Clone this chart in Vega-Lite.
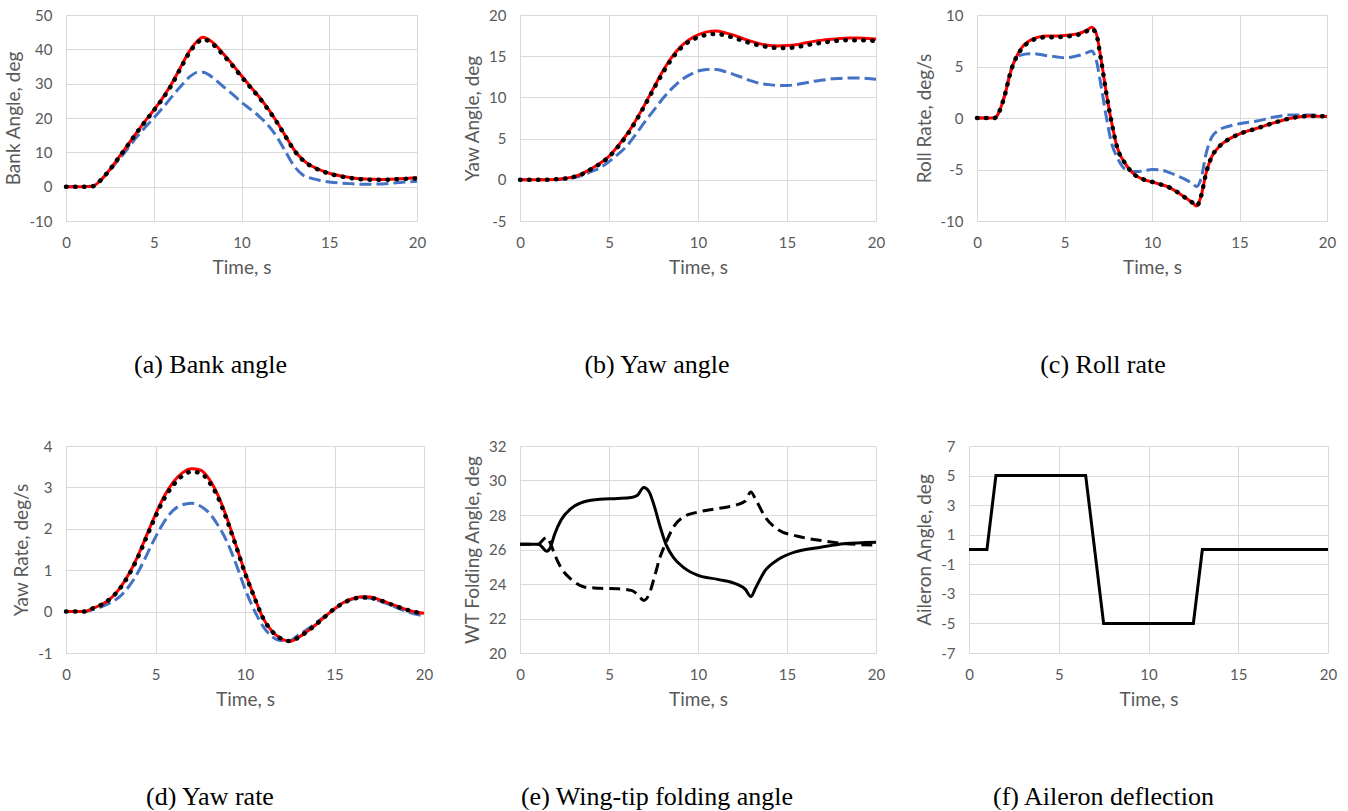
{
  "$schema": "https://vega.github.io/schema/vega-lite/v6.json",
  "padding": {"left": 4, "top": 8, "right": 5, "bottom": 0},
  "background": "white",
  "datasets": {
    "a": [
      {"t":0,"red":0,"black":0,"blue":0},
      {"t":1,"red":0,"black":0,"blue":0},
      {"t":1.5,"red":0.1,"black":0.1,"blue":0.1},
      {"t":2,"red":2.0,"black":2.0,"blue":2.0},
      {"t":2.5,"red":5.0,"black":5.0,"blue":4.8},
      {"t":3,"red":8.5,"black":8.4,"blue":7.8},
      {"t":3.5,"red":12.0,"black":11.9,"blue":11.0},
      {"t":4,"red":15.6,"black":15.5,"blue":14.3},
      {"t":4.5,"red":19.0,"black":18.9,"blue":17.2},
      {"t":5,"red":22.3,"black":22.2,"blue":20.0},
      {"t":5.5,"red":25.8,"black":25.6,"blue":22.9},
      {"t":6,"red":29.8,"black":29.5,"blue":26.0},
      {"t":6.5,"red":34.5,"black":34.2,"blue":29.0},
      {"t":7,"red":39.2,"black":38.8,"blue":31.8},
      {"t":7.5,"red":42.5,"black":42.0,"blue":33.3},
      {"t":7.8,"red":43.5,"black":42.9,"blue":33.3},
      {"t":8,"red":43.2,"black":42.7,"blue":33.0},
      {"t":8.5,"red":41.4,"black":40.9,"blue":31.2},
      {"t":9,"red":38.5,"black":38.1,"blue":29.0},
      {"t":9.5,"red":35.5,"black":35.2,"blue":26.9},
      {"t":10,"red":32.3,"black":32.0,"blue":24.6},
      {"t":10.5,"red":29.2,"black":29.0,"blue":22.6},
      {"t":11,"red":26.2,"black":26.0,"blue":20.5},
      {"t":11.5,"red":22.8,"black":22.6,"blue":18.0},
      {"t":12,"red":19.0,"black":18.9,"blue":14.6},
      {"t":12.5,"red":14.8,"black":14.7,"blue":10.3},
      {"t":13,"red":10.7,"black":10.6,"blue":6.0},
      {"t":13.5,"red":7.8,"black":7.7,"blue":3.4},
      {"t":14,"red":6.0,"black":5.9,"blue":2.4},
      {"t":14.5,"red":4.8,"black":4.7,"blue":1.8},
      {"t":15,"red":3.9,"black":3.8,"blue":1.35},
      {"t":16,"red":2.8,"black":2.7,"blue":0.95},
      {"t":17,"red":2.2,"black":2.1,"blue":0.7},
      {"t":18,"red":2.1,"black":2.0,"blue":0.8},
      {"t":19,"red":2.3,"black":2.2,"blue":1.2},
      {"t":20,"red":2.6,"black":2.4,"blue":1.6}
    ],
    "b": [
      {"t":0,"red":0,"black":0,"blue":0},
      {"t":1,"red":0,"black":0,"blue":0},
      {"t":2,"red":0.05,"black":0.05,"blue":0.03},
      {"t":2.5,"red":0.15,"black":0.15,"blue":0.1},
      {"t":3,"red":0.35,"black":0.35,"blue":0.25},
      {"t":3.5,"red":0.75,"black":0.7,"blue":0.55},
      {"t":4,"red":1.35,"black":1.3,"blue":1.0},
      {"t":4.5,"red":2.0,"black":1.95,"blue":1.45},
      {"t":5,"red":2.85,"black":2.8,"blue":2.2},
      {"t":5.5,"red":4.1,"black":4.0,"blue":3.1},
      {"t":6,"red":5.5,"black":5.4,"blue":4.1},
      {"t":6.5,"red":7.2,"black":7.1,"blue":5.5},
      {"t":7,"red":9.1,"black":9.0,"blue":7.0},
      {"t":7.5,"red":11.1,"black":11.0,"blue":8.4},
      {"t":8,"red":13.1,"black":12.9,"blue":9.8},
      {"t":8.5,"red":14.8,"black":14.6,"blue":11.0},
      {"t":9,"red":16.1,"black":15.9,"blue":12.0},
      {"t":9.5,"red":17.0,"black":16.8,"blue":12.7},
      {"t":10,"red":17.6,"black":17.3,"blue":13.2},
      {"t":10.5,"red":17.95,"black":17.6,"blue":13.4},
      {"t":11,"red":18.05,"black":17.7,"blue":13.4},
      {"t":11.5,"red":17.85,"black":17.55,"blue":13.15},
      {"t":12,"red":17.55,"black":17.25,"blue":12.8},
      {"t":12.5,"red":17.15,"black":16.9,"blue":12.4},
      {"t":13,"red":16.8,"black":16.55,"blue":12.0},
      {"t":13.5,"red":16.5,"black":16.3,"blue":11.7},
      {"t":14,"red":16.3,"black":16.1,"blue":11.55},
      {"t":14.5,"red":16.25,"black":16.0,"blue":11.45},
      {"t":15,"red":16.3,"black":16.0,"blue":11.45},
      {"t":15.5,"red":16.4,"black":16.1,"blue":11.55},
      {"t":16,"red":16.6,"black":16.3,"blue":11.75},
      {"t":16.5,"red":16.8,"black":16.5,"blue":11.95},
      {"t":17,"red":16.95,"black":16.65,"blue":12.1},
      {"t":17.5,"red":17.05,"black":16.8,"blue":12.25},
      {"t":18,"red":17.15,"black":16.9,"blue":12.3},
      {"t":18.5,"red":17.2,"black":16.95,"blue":12.35},
      {"t":19,"red":17.2,"black":16.95,"blue":12.35},
      {"t":19.5,"red":17.15,"black":16.9,"blue":12.3},
      {"t":20,"red":17.1,"black":16.85,"blue":12.2}
    ],
    "c": [
      {"t":0,"red":0,"black":0,"blue":0},
      {"t":1,"red":0,"black":0,"blue":0},
      {"t":1.1,"red":0.1,"black":0.1,"blue":0.1},
      {"t":1.5,"red":1.7,"black":1.7,"blue":1.8},
      {"t":2,"red":4.9,"black":4.9,"blue":5.0},
      {"t":2.5,"red":6.7,"black":6.6,"blue":6.1},
      {"t":3,"red":7.5,"black":7.4,"blue":6.25},
      {"t":3.5,"red":7.85,"black":7.75,"blue":6.2},
      {"t":4,"red":7.95,"black":7.85,"blue":6.05},
      {"t":4.5,"red":7.95,"black":7.85,"blue":5.95},
      {"t":5,"red":8.0,"black":7.9,"blue":5.85},
      {"t":5.5,"red":8.1,"black":8.0,"blue":5.95},
      {"t":6,"red":8.3,"black":8.2,"blue":6.15},
      {"t":6.3,"red":8.55,"black":8.45,"blue":6.35},
      {"t":6.55,"red":8.8,"black":8.65,"blue":6.5},
      {"t":6.8,"red":8.3,"black":8.2,"blue":5.7},
      {"t":7.1,"red":5.6,"black":5.5,"blue":3.0},
      {"t":7.4,"red":2.3,"black":2.3,"blue":0.0},
      {"t":7.7,"red":-0.5,"black":-0.5,"blue":-2.5},
      {"t":8,"red":-2.8,"black":-2.8,"blue":-3.8},
      {"t":8.5,"red":-4.5,"black":-4.5,"blue":-5.0},
      {"t":9,"red":-5.5,"black":-5.5,"blue":-5.2},
      {"t":9.5,"red":-5.95,"black":-5.95,"blue":-5.15},
      {"t":10,"red":-6.2,"black":-6.2,"blue":-5.0},
      {"t":10.5,"red":-6.45,"black":-6.45,"blue":-5.05},
      {"t":11,"red":-6.75,"black":-6.75,"blue":-5.3},
      {"t":11.5,"red":-7.25,"black":-7.25,"blue":-5.65},
      {"t":12,"red":-7.85,"black":-7.85,"blue":-6.05},
      {"t":12.3,"red":-8.2,"black":-8.2,"blue":-6.35},
      {"t":12.55,"red":-8.55,"black":-8.55,"blue":-6.65},
      {"t":12.8,"red":-7.6,"black":-7.6,"blue":-5.9},
      {"t":13.1,"red":-5.3,"black":-5.3,"blue":-3.4},
      {"t":13.4,"red":-3.8,"black":-3.8,"blue":-1.9},
      {"t":13.8,"red":-2.85,"black":-2.85,"blue":-1.2},
      {"t":14.5,"red":-1.95,"black":-1.95,"blue":-0.75},
      {"t":15,"red":-1.55,"black":-1.55,"blue":-0.55},
      {"t":16,"red":-1.0,"black":-1.0,"blue":-0.3},
      {"t":17,"red":-0.45,"black":-0.45,"blue":0.1},
      {"t":18,"red":0.0,"black":0.0,"blue":0.3},
      {"t":19,"red":0.2,"black":0.2,"blue":0.3},
      {"t":20,"red":0.15,"black":0.15,"blue":0.15}
    ],
    "d": [
      {"t":0,"red":0,"black":0,"blue":0},
      {"t":1,"red":0,"black":0,"blue":0},
      {"t":1.5,"red":0.08,"black":0.08,"blue":0.05},
      {"t":2,"red":0.17,"black":0.17,"blue":0.12},
      {"t":2.5,"red":0.32,"black":0.32,"blue":0.22},
      {"t":3,"red":0.56,"black":0.55,"blue":0.36},
      {"t":3.5,"red":0.9,"black":0.88,"blue":0.6},
      {"t":4,"red":1.33,"black":1.3,"blue":0.93},
      {"t":4.5,"red":1.84,"black":1.8,"blue":1.36},
      {"t":5,"red":2.35,"black":2.3,"blue":1.8},
      {"t":5.5,"red":2.8,"black":2.74,"blue":2.18},
      {"t":6,"red":3.13,"black":3.06,"blue":2.45},
      {"t":6.5,"red":3.35,"black":3.28,"blue":2.58},
      {"t":7,"red":3.45,"black":3.38,"blue":2.62},
      {"t":7.5,"red":3.42,"black":3.35,"blue":2.55},
      {"t":8,"red":3.2,"black":3.13,"blue":2.38},
      {"t":8.5,"red":2.8,"black":2.75,"blue":2.08},
      {"t":9,"red":2.25,"black":2.2,"blue":1.68},
      {"t":9.5,"red":1.6,"black":1.58,"blue":1.15},
      {"t":10,"red":0.95,"black":0.93,"blue":0.55},
      {"t":10.5,"red":0.38,"black":0.37,"blue":0.05},
      {"t":11,"red":-0.15,"black":-0.15,"blue":-0.35},
      {"t":11.5,"red":-0.47,"black":-0.47,"blue":-0.6},
      {"t":12,"red":-0.65,"black":-0.65,"blue":-0.7},
      {"t":12.5,"red":-0.72,"black":-0.71,"blue":-0.7},
      {"t":13,"red":-0.62,"black":-0.62,"blue":-0.56},
      {"t":13.5,"red":-0.47,"black":-0.47,"blue":-0.42},
      {"t":14,"red":-0.3,"black":-0.3,"blue":-0.26},
      {"t":14.5,"red":-0.11,"black":-0.11,"blue":-0.1},
      {"t":15,"red":0.07,"black":0.07,"blue":0.06},
      {"t":15.5,"red":0.22,"black":0.21,"blue":0.2},
      {"t":16,"red":0.31,"black":0.3,"blue":0.3},
      {"t":16.5,"red":0.36,"black":0.34,"blue":0.34},
      {"t":17,"red":0.35,"black":0.33,"blue":0.32},
      {"t":17.5,"red":0.29,"black":0.28,"blue":0.26},
      {"t":18,"red":0.21,"black":0.2,"blue":0.18},
      {"t":18.5,"red":0.13,"black":0.12,"blue":0.09},
      {"t":19,"red":0.05,"black":0.05,"blue":0.01},
      {"t":19.5,"red":-0.01,"black":-0.01,"blue":-0.06},
      {"t":20,"red":-0.04,"black":-0.05,"blue":-0.1}
    ],
    "e": [
      {"t":0,"solid":26.3,"dashed":26.3},
      {"t":1.05,"solid":26.3,"dashed":26.3},
      {"t":1.25,"solid":26.13,"dashed":26.52},
      {"t":1.5,"solid":25.9,"dashed":26.7},
      {"t":1.7,"solid":26.1,"dashed":26.38},
      {"t":1.95,"solid":26.9,"dashed":25.7},
      {"t":2.3,"solid":27.7,"dashed":24.95},
      {"t":2.9,"solid":28.4,"dashed":24.25},
      {"t":3.6,"solid":28.77,"dashed":23.83},
      {"t":4.5,"solid":28.92,"dashed":23.75},
      {"t":5.5,"solid":28.96,"dashed":23.72},
      {"t":6.25,"solid":29.02,"dashed":23.63},
      {"t":6.6,"solid":29.15,"dashed":23.4},
      {"t":6.95,"solid":29.6,"dashed":23.05},
      {"t":7.25,"solid":29.35,"dashed":23.4},
      {"t":7.55,"solid":28.5,"dashed":24.4},
      {"t":7.85,"solid":27.4,"dashed":25.5},
      {"t":8.2,"solid":26.3,"dashed":26.4},
      {"t":8.65,"solid":25.5,"dashed":27.35},
      {"t":9.2,"solid":24.95,"dashed":27.9},
      {"t":10,"solid":24.5,"dashed":28.17},
      {"t":11.1,"solid":24.27,"dashed":28.37},
      {"t":12.2,"solid":23.98,"dashed":28.6},
      {"t":12.65,"solid":23.7,"dashed":28.8},
      {"t":12.97,"solid":23.27,"dashed":29.33},
      {"t":13.25,"solid":23.8,"dashed":28.88},
      {"t":13.75,"solid":24.75,"dashed":27.92},
      {"t":14.5,"solid":25.42,"dashed":27.15},
      {"t":15.6,"solid":25.9,"dashed":26.77},
      {"t":16.9,"solid":26.13,"dashed":26.52},
      {"t":18.2,"solid":26.33,"dashed":26.35},
      {"t":20,"solid":26.42,"dashed":26.25}
    ],
    "f": [
      {"t":0,"v":0},
      {"t":1,"v":0},
      {"t":1.5,"v":5},
      {"t":6.5,"v":5},
      {"t":7.5,"v":-5},
      {"t":12.5,"v":-5},
      {"t":13,"v":0},
      {"t":20,"v":0}
    ]
  },
  "columns": 3,
  "align": "none",
  "spacing": {"row": 61, "column": 30},
  "concat": [
    {
      "width": 351, "height": 206,
      "title": {"text": "(a) Bank angle", "dx": -31},
      "data": {"name": "a"},
      "transform": [{"fold": ["blue", "red", "black"], "as": ["s", "v"]}],
      "encoding": {
        "x": {"field": "t", "type": "quantitative", "scale": {"domain": [0, 20], "nice": false}, "axis": {"title": "Time, s", "values": [0, 5, 10, 15, 20]}},
        "y": {"field": "v", "type": "quantitative", "scale": {"domain": [-10, 50], "nice": false, "zero": false}, "axis": {"title": "Bank Angle, deg", "values": [-10, 0, 10, 20, 30, 40, 50]}}
      },
      "layer": [
        {"transform": [{"filter": "datum.s === 'blue'"}], "mark": {"type": "line", "color": "#4472c4", "strokeWidth": 3, "strokeDash": [12, 5], "interpolate": "monotone"}},
        {"transform": [{"filter": "datum.s === 'red'"}], "mark": {"type": "line", "color": "#ff0000", "strokeWidth": 3, "interpolate": "monotone"}},
        {"transform": [{"filter": "datum.s === 'black'"}], "mark": {"type": "line", "color": "#000000", "strokeWidth": 4.5, "strokeDash": [0.5, 8.5], "strokeCap": "round", "interpolate": "monotone"}}
      ]
    },
    {
      "width": 356, "height": 206,
      "title": {"text": "(b) Yaw angle", "dx": -41},
      "data": {"name": "b"},
      "transform": [{"fold": ["blue", "red", "black"], "as": ["s", "v"]}],
      "encoding": {
        "x": {"field": "t", "type": "quantitative", "scale": {"domain": [0, 20], "nice": false}, "axis": {"title": "Time, s", "values": [0, 5, 10, 15, 20]}},
        "y": {"field": "v", "type": "quantitative", "scale": {"domain": [-5, 20], "nice": false, "zero": false}, "axis": {"title": "Yaw Angle, deg", "values": [-5, 0, 5, 10, 15, 20]}}
      },
      "layer": [
        {"transform": [{"filter": "datum.s === 'blue'"}], "mark": {"type": "line", "color": "#4472c4", "strokeWidth": 3, "strokeDash": [12, 5], "interpolate": "monotone"}},
        {"transform": [{"filter": "datum.s === 'red'"}], "mark": {"type": "line", "color": "#ff0000", "strokeWidth": 3, "interpolate": "monotone"}},
        {"transform": [{"filter": "datum.s === 'black'"}], "mark": {"type": "line", "color": "#000000", "strokeWidth": 4.5, "strokeDash": [0.5, 8.5], "strokeCap": "round", "interpolate": "monotone"}}
      ]
    },
    {
      "width": 350, "height": 206,
      "title": {"text": "(c) Roll rate", "dx": -49},
      "data": {"name": "c"},
      "transform": [{"fold": ["blue", "red", "black"], "as": ["s", "v"]}],
      "encoding": {
        "x": {"field": "t", "type": "quantitative", "scale": {"domain": [0, 20], "nice": false}, "axis": {"title": "Time, s", "values": [0, 5, 10, 15, 20]}},
        "y": {"field": "v", "type": "quantitative", "scale": {"domain": [-10, 10], "nice": false, "zero": false}, "axis": {"title": "Roll Rate, deg/s", "values": [-10, -5, 0, 5, 10]}}
      },
      "layer": [
        {"transform": [{"filter": "datum.s === 'blue'"}], "mark": {"type": "line", "color": "#4472c4", "strokeWidth": 3, "strokeDash": [12, 5], "interpolate": "monotone"}},
        {"transform": [{"filter": "datum.s === 'red'"}], "mark": {"type": "line", "color": "#ff0000", "strokeWidth": 3, "interpolate": "monotone"}},
        {"transform": [{"filter": "datum.s === 'black'"}], "mark": {"type": "line", "color": "#000000", "strokeWidth": 4.5, "strokeDash": [0.5, 8.5], "strokeCap": "round", "interpolate": "monotone"}}
      ]
    },
    {
      "width": 358, "height": 207,
      "title": {"text": "(d) Yaw rate", "dx": -35},
      "data": {"name": "d"},
      "transform": [{"fold": ["blue", "red", "black"], "as": ["s", "v"]}],
      "encoding": {
        "x": {"field": "t", "type": "quantitative", "scale": {"domain": [0, 20], "nice": false}, "axis": {"title": "Time, s", "values": [0, 5, 10, 15, 20]}},
        "y": {"field": "v", "type": "quantitative", "scale": {"domain": [-1, 4], "nice": false, "zero": false}, "axis": {"title": "Yaw Rate, deg/s", "values": [-1, 0, 1, 2, 3, 4]}}
      },
      "layer": [
        {"transform": [{"filter": "datum.s === 'blue'"}], "mark": {"type": "line", "color": "#4472c4", "strokeWidth": 3, "strokeDash": [12, 5], "interpolate": "monotone"}},
        {"transform": [{"filter": "datum.s === 'red'"}], "mark": {"type": "line", "color": "#ff0000", "strokeWidth": 3, "interpolate": "monotone"}},
        {"transform": [{"filter": "datum.s === 'black'"}], "mark": {"type": "line", "color": "#000000", "strokeWidth": 4.5, "strokeDash": [0.5, 8.5], "strokeCap": "round", "interpolate": "monotone"}}
      ]
    },
    {
      "width": 356, "height": 207,
      "title": {"text": "(e) Wing-tip folding angle", "dx": -41},
      "data": {"name": "e"},
      "transform": [{"fold": ["solid", "dashed"], "as": ["s", "v"]}],
      "encoding": {
        "x": {"field": "t", "type": "quantitative", "scale": {"domain": [0, 20], "nice": false}, "axis": {"title": "Time, s", "values": [0, 5, 10, 15, 20]}},
        "y": {"field": "v", "type": "quantitative", "scale": {"domain": [20, 32], "nice": false, "zero": false}, "axis": {"title": "WT Folding Angle, deg", "values": [20, 22, 24, 26, 28, 30, 32]}}
      },
      "layer": [
        {"transform": [{"filter": "datum.s === 'dashed'"}], "mark": {"type": "line", "color": "#000000", "strokeWidth": 3, "strokeDash": [11, 6], "interpolate": "monotone"}},
        {"transform": [{"filter": "datum.s === 'solid'"}], "mark": {"type": "line", "color": "#000000", "strokeWidth": 3, "interpolate": "monotone"}}
      ]
    },
    {
      "width": 359, "height": 207,
      "title": {"text": "(f) Aileron deflection", "dx": -45},
      "data": {"name": "f"},
      "mark": {"type": "line", "color": "#000000", "strokeWidth": 3},
      "encoding": {
        "x": {"field": "t", "type": "quantitative", "scale": {"domain": [0, 20], "nice": false}, "axis": {"title": "Time, s", "values": [0, 5, 10, 15, 20]}},
        "y": {"field": "v", "type": "quantitative", "scale": {"domain": [-7, 7], "nice": false, "zero": false}, "axis": {"title": "Aileron Angle, deg", "values": [-7, -5, -3, -1, 1, 3, 5, 7]}}
      }
    }
  ],
  "config": {
    "view": {"stroke": null},
    "axis": {
      "labelFont": "Lato", "labelFontSize": 15, "labelColor": "#595959",
      "titleFont": "Lato", "titleFontSize": 19, "titleFontWeight": "normal", "titleColor": "#595959",
      "gridColor": "#d9d9d9", "gridWidth": 1, "domain": false, "ticks": false, "tickSize": 0,
      "labelPadding": 14, "titlePadding": 6, "labelFlush": false,
      "labelExpr": "replace(datum.label, '\u2212', '-')"
    },
    "axisX": {"domain": true, "domainColor": "#d9d9d9", "titlePadding": 8},
    "title": {"font": "Liberation Serif", "fontSize": 26, "fontWeight": "normal", "color": "#000000", "orient": "bottom", "anchor": "middle", "frame": "group", "offset": 75}
  }
}
